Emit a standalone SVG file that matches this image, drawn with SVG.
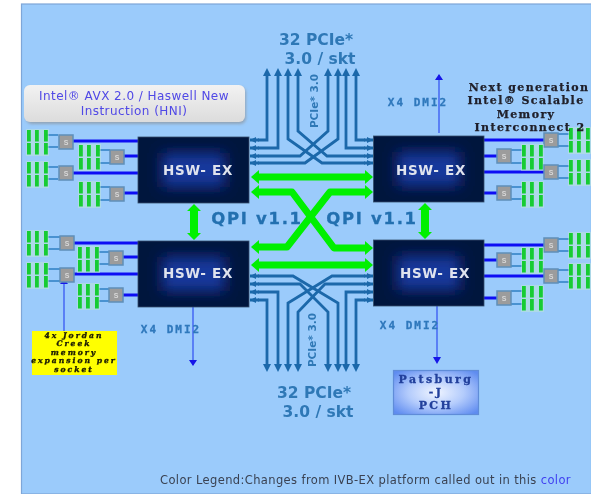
<svg xmlns="http://www.w3.org/2000/svg" width="591" height="494" viewBox="0 0 591 494">
<style>
.pcie{fill:none;stroke:#1a68aa;stroke-width:2.8}
.qpi{fill:none;stroke:#00f000;stroke-width:7;stroke-linejoin:round}
.qv{fill:none;stroke:#00f000;stroke-width:8}
.dmi{fill:none;stroke:#4a6cf4;stroke-width:1.6}
.mem{stroke:#1010f4;stroke-width:3;fill:none}
.ch{stroke:#2e80c4;stroke-width:1.5;fill:none}
.s{fill:#9c9c9c;stroke:#5f8fb8;stroke-width:1.5}
.st{font:bold 7px "Liberation Sans",sans-serif;fill:#d8d8d8;text-anchor:middle}
.cput{font:bold 13.5px "DejaVu Sans",sans-serif;letter-spacing:.7px;fill:#dfe3ee;text-anchor:middle}
.big{font:bold 15.5px "DejaVu Sans",sans-serif;fill:#2f78b6;text-anchor:middle}
.qt{font:bold 16.5px "DejaVu Sans",sans-serif;letter-spacing:1.7px;fill:#2470b0;stroke:#2470b0;stroke-width:.3;text-anchor:middle}
.rot{font:bold 10.5px "DejaVu Sans",sans-serif;fill:#2f78b6;text-anchor:middle}
.x4{font:bold 11px "DejaVu Sans Mono",monospace;letter-spacing:2px;fill:#2f78bc;stroke:#2f78bc;stroke-width:.3;text-anchor:middle}
.next{font:bold 11px "DejaVu Serif",serif;letter-spacing:1.4px;fill:#20202a;stroke:#20202a;stroke-width:.25;text-anchor:middle}
.note{font:italic bold 7.6px "DejaVu Serif",serif;letter-spacing:2px;fill:#1c1c08;stroke:#1c1c08;stroke-width:.35;text-anchor:middle}
.pch{font:bold 11px "DejaVu Serif",serif;letter-spacing:2.4px;fill:#23409c;stroke:#23409c;stroke-width:.3;text-anchor:middle}
.avx{font:12px "DejaVu Sans",sans-serif;letter-spacing:.45px;fill:#5048e6;text-anchor:middle}
.leg{font:11.5px "DejaVu Sans",sans-serif;letter-spacing:.38px;fill:#3a4252}
.cb{fill:#04133e;stroke:#34506c;stroke-width:.8}
.cg{fill:#16399c;filter:url(#gl)}
</style>
<defs>
<filter id="b" x="0" y="0" width="1" height="1"><feGaussianBlur stdDeviation="0.7"/></filter>
<filter id="sh" x="-5%" y="-10%" width="110%" height="125%"><feGaussianBlur stdDeviation="1.5"/></filter>
<filter id="gl" x="-30%" y="-50%" width="160%" height="200%"><feGaussianBlur stdDeviation="7"/></filter>
<radialGradient id="pg" cx=".5" cy=".5" r=".65"><stop offset="0" stop-color="#f0f5ff"/><stop offset=".5" stop-color="#b4ccfc"/><stop offset="1" stop-color="#5f8cf0"/></radialGradient>
<linearGradient id="ag" x1="0" y1="0" x2="0" y2="1"><stop offset="0" stop-color="#f2f2f2"/><stop offset="1" stop-color="#dcdcdc"/></linearGradient>
<marker id="pa" viewBox="0 0 8 8" refX="4" refY="4" markerWidth="8" markerHeight="8" markerUnits="userSpaceOnUse" orient="auto"><path d="M0,0L8,4L0,8Z" fill="#1a68aa"/></marker>
<marker id="ga" viewBox="0 0 8 14" refX="1" refY="7" markerWidth="8" markerHeight="14" markerUnits="userSpaceOnUse" orient="auto-start-reverse"><path d="M0,0L8,7L0,14Z" fill="#00f000"/></marker>
<g id="dimm">
<rect x="-1" y="-1" width="23" height="27" fill="#c4ecd0" opacity=".45"/>
<g fill="#14cc30"><rect x="0" y="0" width="3.8" height="11.5"/><rect x="0" y="13" width="3.8" height="11.5"/><rect x="8" y="0" width="3.8" height="11.5"/><rect x="8" y="13" width="3.8" height="11.5"/><rect x="17" y="0" width="3.8" height="11.5"/><rect x="17" y="13" width="3.8" height="11.5"/></g>
</g>
<g id="sbox"><rect class="s" x="-7" y="-7" width="14" height="14"/><text class="st" y="2.5">S</text></g>
</defs>
<g filter="url(#b)">
<rect width="591" height="494" fill="#fff"/>
<rect x="21.5" y="4" width="570" height="490" fill="#9bcbfb" stroke="#7ea6d8" stroke-width="1.2"/>

<g id="connectors">
<g id="pcie-top" class="pcie">
<path marker-end="url(#pa)" d="M258,140H267V72"/>
<path marker-end="url(#pa)" d="M258,148H278V72"/>
<path marker-end="url(#pa)" d="M258,156H300L328,131V72"/>
<path marker-end="url(#pa)" d="M258,163H305L338,139V72"/>
<path marker-end="url(#pa)" d="M365,163H322L288,139V72"/>
<path marker-end="url(#pa)" d="M365,156H327L298,131V72"/>
<path marker-end="url(#pa)" d="M365,148H346V72"/>
<path marker-end="url(#pa)" d="M365,140H356V72"/>
</g>
<g id="pcie-bot" class="pcie">
<path marker-end="url(#pa)" d="M258,300H267V368"/>
<path marker-end="url(#pa)" d="M258,292H278V368"/>
<path marker-end="url(#pa)" d="M365,276H332L288,303V368"/>
<path marker-end="url(#pa)" d="M365,284H325L298,312V368"/>
<path marker-end="url(#pa)" d="M258,284H300L328,312V368"/>
<path marker-end="url(#pa)" d="M258,276H293L338,303V368"/>
<path marker-end="url(#pa)" d="M365,292H346V368"/>
<path marker-end="url(#pa)" d="M365,300H356V368"/>
</g>
<g id="pcie-ends" stroke="#1a68aa" stroke-width="2.8">
<path d="M250,140H259M250,148H259M250,156H259M250,163H259M250,276H259M250,284H259M250,292H259M250,300H259"/>
<path d="M364,140H373M364,148H373M364,156H373M364,163H373M364,276H373M364,284H373M364,292H373M364,300H373"/>
<path fill="#1a68aa" stroke="none" d="M250,140l6-3v6zM250,148l6-3v6zM250,156l6-3v6zM250,163l6-3v6zM250,276l6-3v6zM250,284l6-3v6zM250,292l6-3v6zM250,300l6-3v6zM373,140l-6-3v6zM373,148l-6-3v6zM373,156l-6-3v6zM373,163l-6-3v6zM373,276l-6-3v6zM373,284l-6-3v6zM373,292l-6-3v6zM373,300l-6-3v6z"/>
</g>
<g id="qpi">
<path class="qpi" marker-start="url(#ga)" marker-end="url(#ga)" d="M258,177H366"/>
<path class="qpi" marker-start="url(#ga)" marker-end="url(#ga)" d="M258,265H366"/>
<path class="qpi" marker-start="url(#ga)" marker-end="url(#ga)" d="M258,192H292L334,248H366"/>
<path class="qpi" marker-start="url(#ga)" marker-end="url(#ga)" d="M366,192H330L287,247H258"/>
<path class="qv" d="M194,210V234"/><path fill="#00f000" d="M187,211L194,204L201,211ZM187,233H201L194,240Z"/>
<path class="qv" d="M425,209V233"/><path fill="#00f000" d="M418,210L425,203L432,210ZM418,232H432L425,239Z"/>
</g>
<g id="dmi">
<path class="dmi" d="M439,133V80"/><path fill="#1212e8" d="M435,80L439,74L443,80Z"/>
<path class="dmi" d="M193,307V362"/><path fill="#1212e8" d="M189,360H197L193,366Z"/>
<path class="dmi" d="M437,306V359"/><path fill="#1212e8" d="M433,357H441L437,364Z"/>
<path class="dmi" d="M64,331V284"/><path fill="#1212e8" d="M60,284L64,279L68,284Z"/>
</g>
<g id="memory-links">
<path class="mem" d="M73,141H138M124,156H138M73,173H138M124,193H138"/>
<path class="mem" d="M74,243H138M123,257H138M74,274H138M123,295H138"/>
<path class="mem" d="M484,140H544M484,156H497M484,172H544M484,193H497"/>
<path class="mem" d="M484,245H544M484,260H497M484,276H544M484,298H497"/>
<path class="ch" d="M47,135H58M47,147H58M99,150H110M99,163H110M47,167H58M47,179H58M99,187H110M99,200H110"/>
<path class="ch" d="M48,237H60M48,249H60M99,252H109M99,264H109M48,269H60M48,281H60M99,289H109M99,301H109"/>
<path class="ch" d="M558,134H569M558,146H569M511,150H522M511,163H522M558,166H569M558,178H569M511,187H522M511,199H522"/>
<path class="ch" d="M558,239H569M558,251H569M511,254H522M511,266H522M558,270H569M558,282H569M511,291H522M511,304H522"/>
</g>
</g>

<g id="memory">
<use href="#dimm" x="27" y="130"/><use href="#sbox" x="66" y="142"/>
<use href="#dimm" x="79" y="145"/><use href="#sbox" x="117" y="157"/>
<use href="#dimm" x="27" y="162"/><use href="#sbox" x="66" y="173"/>
<use href="#dimm" x="79" y="182"/><use href="#sbox" x="117" y="194"/>
<use href="#dimm" x="27" y="231"/><use href="#sbox" x="67" y="243"/>
<use href="#dimm" x="78" y="247"/><use href="#sbox" x="116" y="258"/>
<use href="#dimm" x="27" y="263"/><use href="#sbox" x="67" y="275"/>
<use href="#dimm" x="78" y="284"/><use href="#sbox" x="116" y="295"/>
<use href="#dimm" x="569" y="128"/><use href="#sbox" x="551" y="140"/>
<use href="#dimm" x="522" y="145"/><use href="#sbox" x="504" y="156"/>
<use href="#dimm" x="569" y="160"/><use href="#sbox" x="551" y="172"/>
<use href="#dimm" x="522" y="182"/><use href="#sbox" x="504" y="193"/>
<use href="#dimm" x="569" y="233"/><use href="#sbox" x="551" y="245"/>
<use href="#dimm" x="522" y="248"/><use href="#sbox" x="504" y="260"/>
<use href="#dimm" x="569" y="264"/><use href="#sbox" x="551" y="276"/>
<use href="#dimm" x="522" y="286"/><use href="#sbox" x="504" y="298"/>
</g>

<g id="cpu-tl"><rect class="cb" x="138" y="137" width="111" height="66"/><rect class="cg" x="162" y="153" width="63" height="34"/><text class="cput" x="198" y="175">HSW- EX</text></g>
<g id="cpu-tr"><rect class="cb" x="373.5" y="136" width="110.5" height="66"/><rect class="cg" x="397" y="152" width="63" height="34"/><text class="cput" x="431" y="175">HSW- EX</text></g>
<g id="cpu-bl"><rect class="cb" x="138" y="241" width="111" height="66"/><rect class="cg" x="162" y="257" width="63" height="34"/><text class="cput" x="198" y="278">HSW- EX</text></g>
<g id="cpu-br"><rect class="cb" x="373.5" y="240" width="110.5" height="66"/><rect class="cg" x="397" y="256" width="63" height="34"/><text class="cput" x="435" y="278">HSW- EX</text></g>

<g id="callout">
<rect x="26" y="87" width="220" height="37" rx="6" fill="#8a8a8a" opacity=".6" filter="url(#sh)"/>
<rect x="24" y="85" width="221" height="37" rx="6" fill="url(#ag)"/>
<text class="avx" x="134" y="100">Intel® AVX 2.0 / Haswell New</text>
<text class="avx" x="134" y="115">Instruction (HNI)</text>
</g>

<g id="labels">
<text class="big" x="316" y="45">32 PCIe*</text>
<text class="big" x="320" y="64">3.0 / skt</text>
<text class="big" x="314" y="398">32 PCIe*</text>
<text class="big" x="318" y="417">3.0 / skt</text>
<text class="rot" transform="translate(318,101) rotate(-90)">PCIe* 3.0</text>
<text class="rot" transform="translate(316,340) rotate(-90)">PCIe* 3.0</text>
<text class="qt" x="257" y="224">QPI v1.1</text>
<text class="qt" x="372" y="224">QPI v1.1</text>
<text class="x4" x="418" y="106">X4 DMI2</text>
<text class="x4" x="171" y="333">X4 DMI2</text>
<text class="x4" x="410" y="329">X4 DMI2</text>
<text class="next" x="529" y="91">Next generation</text>
<text class="next" x="526" y="104">Intel® Scalable</text>
<text class="next" x="526" y="118">Memory</text>
<text class="next" x="530" y="131">Interconnect 2</text>
<text class="leg" x="160" y="484">Color Legend:Changes from IVB-EX platform called out in this <tspan fill="#4040f0">color</tspan></text>
</g>

<g id="note">
<rect x="32" y="331" width="85" height="44" fill="#ffff00"/>
<text class="note" x="74" y="338">4x Jordan</text>
<text class="note" x="74" y="346">Creek</text>
<text class="note" x="74" y="355">memory</text>
<text class="note" x="74" y="363">expansion per</text>
<text class="note" x="74" y="372">socket</text>
</g>

<g id="pch">
<rect x="393.5" y="370.5" width="85" height="44" fill="url(#pg)" stroke="#5f8cd8" stroke-width="1.2"/>
<text class="pch" x="436" y="383">Patsburg</text>
<text class="pch" x="436" y="396">-J</text>
<text class="pch" x="436" y="409">PCH</text>
</g>
</g>
</svg>
